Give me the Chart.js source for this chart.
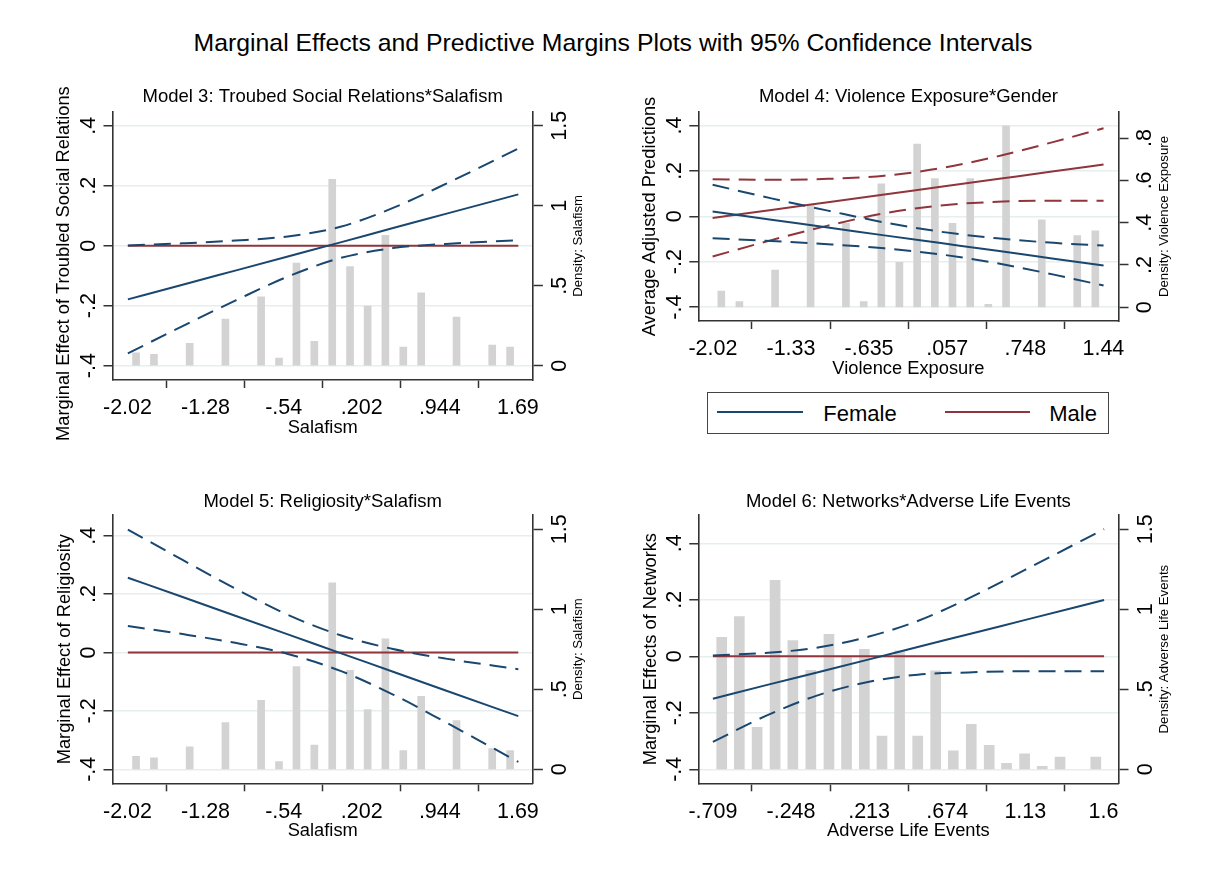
<!DOCTYPE html>
<html>
<head>
<meta charset="utf-8">
<script src="https://cdn.jsdelivr.net/npm/chart.js@4.4.1/dist/chart.umd.min.js"></script>
<style>
  html, body { margin: 0; padding: 0; background: #ffffff; }
  body { width: 1219px; height: 884px; position: relative; overflow: hidden;
         font-family: 'Liberation Sans', Arial, Helvetica, sans-serif; color: #000; }
  canvas { position: absolute; }
  #mainTitle { position: absolute; left: 0; width: 1226px; top: 28.3px; text-align: center;
               font-size: 24.8px; line-height: 30px; white-space: nowrap; }
  .lgbox { position: absolute; box-sizing: border-box; border: 1.3px solid #444; }
  .lgline { position: absolute; height: 2px; }
  .lgtext { position: absolute; font-size: 22px; line-height: 22px; white-space: nowrap; }
</style>
</head>
<body>
<div id="mainTitle">Marginal Effects and Predictive Margins Plots with 95% Confidence Intervals</div>
<canvas id="c1" width="610" height="360" style="left:0px;top:80px"></canvas>
<canvas id="c2" width="609" height="301" style="left:610px;top:80px"></canvas>
<canvas id="c3" width="610" height="364" style="left:0px;top:480px"></canvas>
<canvas id="c4" width="609" height="364" style="left:610px;top:480px"></canvas>
<div id="legendHost"></div>
<script>
// ---------------- DATA ----------------
// Tick values / labels
const leftTickVals = [-0.4, -0.2, 0, 0.2, 0.4];
const leftTickLabels = ['-.4', '-.2', '0', '.2', '.4'];
const densityTickVals = [0, 0.5, 1, 1.5];
const densityTickLabels = ['0', '.5', '1', '1.5'];
const violenceDensityTickVals = [0, 0.2, 0.4, 0.6, 0.8];
const violenceDensityTickLabels = ['0', '.2', '.4', '.6', '.8'];
const salafismTickVals = [-2.0235, -1.2816, -0.5397, 0.2022, 0.9441, 1.686];
const salafismTickLabels = ['-2.02', '-1.28', '-.54', '.202', '.944', '1.69'];
const violenceTickVals = [-2.0175, -1.3265, -0.6355, 0.0565, 0.7475, 1.4385];
const violenceTickLabels = ['-2.02', '-1.33', '-.635', '.057', '.748', '1.44'];
const adverseTickVals = [-0.709, -0.248, 0.213, 0.674, 1.135, 1.596];
const adverseTickLabels = ['-.709', '-.248', '.213', '.674', '1.13', '1.6'];

// Model 3: Troubled social relations * Salafism
const p1X      = [-2.02, -1.5, -1.0, -0.5, 0, 0.5, 1.0, 1.69];
const p1Effect = [-0.179, -0.130, -0.083, -0.036, 0.011, 0.059, 0.106, 0.171];
const p1Upper  = [0.001, 0.008, 0.017, 0.031, 0.063, 0.126, 0.206, 0.324];
const p1Lower  = [-0.359, -0.268, -0.183, -0.103, -0.041, -0.008, 0.006, 0.018];

// Salafism histogram (density)
const salafismBinX = [-1.942, -1.772, -1.433, -1.093, -0.754, -0.584, -0.418, -0.248, -0.078,
                      0.091, 0.258, 0.427, 0.597, 0.767, 1.103, 1.442, 1.612];
const salafismDensity = [0.081, 0.071, 0.14, 0.292, 0.431, 0.048, 0.642, 0.152, 1.165,
                         0.619, 0.373, 0.815, 0.117, 0.456, 0.304, 0.129, 0.117];

// Model 4: Violence exposure * Gender
const p2X         = [-2.02, -1.5, -1.0, -0.5, 0, 0.5, 1.0, 1.44];
const femaleEst   = [0.021, -0.015, -0.049, -0.084, -0.118, -0.152, -0.187, -0.217];
const femaleUpper = [0.139, 0.079, 0.025, -0.027, -0.068, -0.097, -0.117, -0.129];
const femaleLower = [-0.097, -0.109, -0.123, -0.141, -0.168, -0.207, -0.257, -0.305];
const maleEst     = [-0.007, 0.028, 0.062, 0.096, 0.130, 0.164, 0.198, 0.228];
const maleUpper   = [0.163, 0.161, 0.165, 0.179, 0.212, 0.264, 0.328, 0.388];
const maleLower   = [-0.177, -0.105, -0.041, 0.013, 0.048, 0.064, 0.069, 0.068];
const genderLabels = ['Female', 'Male'];

// Violence exposure histogram (density)
const violenceBinX = [-1.943, -1.783, -1.467, -1.153, -0.840, -0.683, -0.527, -0.367, -0.210,
                      -0.053, 0.103, 0.260, 0.420, 0.577, 0.893, 1.207, 1.367];
const violenceDensity = [0.077, 0.027, 0.176, 0.483, 0.397, 0.027, 0.584, 0.213, 0.772,
                         0.609, 0.397, 0.609, 0.014, 0.858, 0.413, 0.339, 0.362];

// Model 5: Religiosity * Salafism
const p3X      = [-2.02, -1.5, -1.0, -0.5, 0, 0.5, 1.0, 1.69];
const p3Effect = [0.256, 0.190, 0.126, 0.062, -0.002, -0.066, -0.130, -0.218];
const p3Upper  = [0.421, 0.317, 0.219, 0.129, 0.059, 0.012, -0.021, -0.057];
const p3Lower  = [0.091, 0.063, 0.033, -0.005, -0.063, -0.144, -0.239, -0.375];

// Model 6: Networks * Adverse life events
const p4X      = [-0.709, -0.4, -0.1, 0.213, 0.5, 0.8, 1.13, 1.6];
const p4Effect = [-0.150, -0.103, -0.058, -0.011, 0.033, 0.078, 0.128, 0.199];
const p4Upper  = [0.003, 0.012, 0.030, 0.070, 0.125, 0.205, 0.305, 0.450];
const p4Lower  = [-0.303, -0.212, -0.140, -0.090, -0.065, -0.057, -0.053, -0.053];

// Adverse life events histogram (density)
const adverseBinX = [-0.657, -0.553, -0.448, -0.342, -0.237, -0.131, -0.024, 0.080, 0.185, 0.289,
                     0.393, 0.500, 0.606, 0.710, 0.816, 0.922, 1.024, 1.131, 1.235, 1.340, 1.551];
const adverseDensity = [0.825, 0.954, 0.262, 1.181, 0.804, 0.619, 0.844, 0.70, 0.75, 0.208,
                        0.74, 0.208, 0.616, 0.116, 0.281, 0.150, 0.037, 0.096, 0.019, 0.077, 0.077];

// ---------------- STYLE ----------------
const FONT = "'Liberation Sans', Arial, Helvetica, sans-serif";
const NAVY = '#1a476f', MAROON = '#90353b', BARC = '#d3d3d3', GRID = '#e6eef0', AXIS = '#333333', TXT = '#000000';
const DASH = [17, 9];
Chart.defaults.font.family = FONT;

function pts(xs, ys) { return xs.map((x, i) => ({ x: x, y: ys[i] })); }
function lineDS(label, xs, ys, color, dashed, order) {
  return { type: 'line', label: label, data: pts(xs, ys), borderColor: color, backgroundColor: color,
           borderWidth: 2, borderDash: dashed ? DASH : [], pointRadius: 0, fill: false,
           cubicInterpolationMode: 'monotone', order: order, xAxisID: 'x', yAxisID: 'y' };
}
function zeroDS(xs) {
  return lineDS('zero', [xs[0], xs[xs.length - 1]], [0, 0], MAROON, false, 5);
}
function barDS(label, xs, ys, w) {
  return { type: 'bar', label: label, data: pts(xs, ys), backgroundColor: BARC, borderWidth: 0,
           barThickness: w, order: 10, xAxisID: 'x', yAxisID: 'y2' };
}

const rightTitlePlugin = {
  id: 'rightTitle',
  afterDraw(chart, args, opts) {
    const s = chart.scales.y2, c = chart.ctx;
    c.save();
    c.fillStyle = TXT; c.font = '13.2px ' + FONT; c.textAlign = 'center'; c.textBaseline = 'middle';
    c.translate(s.left + opts.offset, (s.top + s.bottom) / 2);
    c.rotate(-Math.PI / 2);
    c.fillText(opts.text, 0, 0);
    c.restore();
  }
};

function makePanel(id, p) {
  return new Chart(document.getElementById(id), {
    type: 'line',
    data: { datasets: p.datasets },
    options: {
      responsive: false, animation: false, events: [],
      layout: { padding: 0 },
      plugins: {
        legend: { display: false }, tooltip: { enabled: false },
        title: { display: true, text: p.title, color: TXT, fullSize: false,
                 font: { family: FONT, size: 18.5, weight: 'normal' },
                 padding: { top: p.titlePadTop, bottom: p.titlePadBottom } },
        rightTitle: { text: p.rightTitle, offset: 45.8 }
      },
      scales: {
        x: {
          type: 'linear', position: 'bottom', min: p.xMin, max: p.xMax, offset: false, bounds: 'data',
          afterBuildTicks: s => { s.ticks = p.xTickVals.map(v => ({ value: v })); },
          afterFit: s => { s.height = p.xHeight; },
          ticks: { callback: (v, i) => p.xTickLabels[i], autoSkip: false, minRotation: 0, maxRotation: 0,
                   padding: 7.4, color: TXT, font: { family: FONT, size: 21.5 } },
          grid: { display: true, drawOnChartArea: false, drawTicks: true, tickLength: 8, tickColor: AXIS, tickWidth: 1.5 },
          border: { display: true, color: AXIS, width: 1.6 },
          title: { display: true, text: p.xTitle, color: TXT, font: { family: FONT, size: 18.3 },
                   padding: { top: 0, bottom: p.xTitlePadBottom } }
        },
        y: {
          type: 'linear', position: 'left', min: p.yMin, max: p.yMax, bounds: 'data',
          afterBuildTicks: s => { s.ticks = leftTickVals.map(v => ({ value: v })); },
          afterFit: s => { s.width = p.yWidth; },
          ticks: { callback: (v, i) => leftTickLabels[i], autoSkip: false, minRotation: 90, maxRotation: 90,
                   crossAlign: 'center', padding: 1.8, color: TXT, font: { family: FONT, size: 21.5 } },
          grid: { display: true, drawOnChartArea: true, color: GRID, lineWidth: 1.5, drawTicks: true,
                  tickLength: 9, tickColor: AXIS, tickWidth: 1.5 },
          border: { display: true, color: AXIS, width: 1.6 },
          title: { display: true, text: p.yTitle, color: TXT, font: { family: FONT, size: 18.3 },
                   padding: { top: p.yTitlePadTop, bottom: 0 } }
        },
        y2: {
          type: 'linear', position: 'right', min: p.y2Min, max: p.y2Max, bounds: 'data',
          afterBuildTicks: s => { s.ticks = p.y2TickVals.map(v => ({ value: v })); },
          afterFit: s => { s.width = p.y2Width; },
          ticks: { callback: (v, i) => p.y2TickLabels[i], autoSkip: false, minRotation: 90, maxRotation: 90,
                   crossAlign: 'center', padding: p.y2Pad, color: TXT, font: { family: FONT, size: 21.5 } },
          grid: { display: true, drawOnChartArea: false, drawTicks: true, tickLength: 10, tickColor: AXIS, tickWidth: 1.5 },
          border: { display: true, color: AXIS, width: 1.6 }
        }
      }
    },
    plugins: [rightTitlePlugin]
  });
}

// Panel 1
makePanel('c1', {
  title: 'Model 3: Troubed Social Relations*Salafism', titlePadTop: 5.6, titlePadBottom: 3.9,
  xTitle: 'Salafism', xTickVals: salafismTickVals, xTickLabels: salafismTickLabels,
  xMin: -2.166, xMax: 1.8285, xHeight: 60, xTitlePadBottom: 1.3,
  yTitle: 'Marginal Effect of Troubled Social Relations' + '\u00a0'.repeat(7),
  yMin: -0.4477, yMax: 0.4467, yWidth: 112.5, yTitlePadTop: 53,
  rightTitle: 'Density: Salafism', y2TickVals: densityTickVals, y2TickLabels: densityTickLabels,
  y2Min: -0.0894, y2Max: 1.5875, y2Width: 77.1, y2Pad: 2.6,
  datasets: [
    barDS('Density', salafismBinX, salafismDensity, 7),
    zeroDS(p1X),
    lineDS('Upper 95% CI', p1X, p1Upper, NAVY, true, 1),
    lineDS('Lower 95% CI', p1X, p1Lower, NAVY, true, 1),
    lineDS('Marginal effect', p1X, p1Effect, NAVY, false, 0)
  ]
});

// Panel 2
makePanel('c2', {
  title: 'Model 4: Violence Exposure*Gender', titlePadTop: 5.6, titlePadBottom: 4.2,
  xTitle: 'Violence Exposure', xTickVals: violenceTickVals, xTickLabels: violenceTickLabels,
  xMin: -2.1467, xMax: 1.5721, xHeight: 60, xTitlePadBottom: 1.3,
  yTitle: 'Average Adjusted Predictions',
  yMin: -0.4612, yMax: 0.4595, yWidth: 88.3, yTitlePadTop: 29,
  rightTitle: 'Density: Violence Exposure', y2TickVals: violenceDensityTickVals, y2TickLabels: violenceDensityTickLabels,
  y2Min: -0.0648, y2Max: 0.9234, y2Width: 100.5, y2Pad: 7.5,
  datasets: [
    barDS('Density', violenceBinX, violenceDensity, 7),
    lineDS('Male upper', p2X, maleUpper, MAROON, true, 3),
    lineDS('Male lower', p2X, maleLower, MAROON, true, 3),
    lineDS(genderLabels[1], p2X, maleEst, MAROON, false, 2),
    lineDS('Female upper', p2X, femaleUpper, NAVY, true, 1),
    lineDS('Female lower', p2X, femaleLower, NAVY, true, 1),
    lineDS(genderLabels[0], p2X, femaleEst, NAVY, false, 0)
  ]
});

// Panel 3
makePanel('c3', {
  title: 'Model 5: Religiosity*Salafism', titlePadTop: 10.6, titlePadBottom: 2.2,
  xTitle: 'Salafism', xTickVals: salafismTickVals, xTickLabels: salafismTickLabels,
  xMin: -2.166, xMax: 1.8285, xHeight: 60.7, xTitlePadBottom: 2.0,
  yTitle: 'Marginal Effect of Religiosity',
  yMin: -0.448, yMax: 0.4709, yWidth: 112.5, yTitlePadTop: 53.5,
  rightTitle: 'Density: Salafism', y2TickVals: densityTickVals, y2TickLabels: densityTickLabels,
  y2Min: -0.0875, y2Max: 1.589, y2Width: 77.1, y2Pad: 2.6,
  datasets: [
    barDS('Density', salafismBinX, salafismDensity, 7),
    zeroDS(p3X),
    lineDS('Upper 95% CI', p3X, p3Upper, NAVY, true, 1),
    lineDS('Lower 95% CI', p3X, p3Lower, NAVY, true, 1),
    lineDS('Marginal effect', p3X, p3Effect, NAVY, false, 0)
  ]
});

// Panel 4
makePanel('c4', {
  title: 'Model 6: Networks*Adverse Life Events', titlePadTop: 10.6, titlePadBottom: 2.2,
  xTitle: 'Adverse Life Events', xTickVals: adverseTickVals, xTickLabels: adverseTickLabels,
  xMin: -0.7952, xMax: 1.6851, xHeight: 60.7, xTitlePadBottom: 2.0,
  yTitle: 'Marginal Effects of Networks',
  yMin: -0.4496, yMax: 0.5002, yWidth: 88.3, yTitlePadTop: 30,
  rightTitle: 'Density: Adverse Life Events', y2TickVals: densityTickVals, y2TickLabels: densityTickLabels,
  y2Min: -0.0875, y2Max: 1.589, y2Width: 100.5, y2Pad: 2.6,
  datasets: [
    barDS('Density', adverseBinX, adverseDensity, 10),
    zeroDS(p4X),
    lineDS('Upper 95% CI', p4X, p4Upper, NAVY, true, 1),
    lineDS('Lower 95% CI', p4X, p4Lower, NAVY, true, 1),
    lineDS('Marginal effect', p4X, p4Effect, NAVY, false, 0)
  ]
});

// Legend for panel 2 (Female / Male)
(function () {
  const host = document.getElementById('legendHost');
  const box = document.createElement('div');
  box.className = 'lgbox';
  Object.assign(box.style, { left: '707px', top: '392px', width: '402px', height: '41.5px' });
  host.appendChild(box);
  const items = [
    { label: genderLabels[0], color: NAVY, lineLeft: 717.3, lineW: 86, textLeft: 823.3 },
    { label: genderLabels[1], color: MAROON, lineLeft: 945, lineW: 85, textLeft: 1049.3 }
  ];
  items.forEach(it => {
    const ln = document.createElement('div');
    ln.className = 'lgline';
    Object.assign(ln.style, { left: it.lineLeft + 'px', top: '411.3px', width: it.lineW + 'px', background: it.color });
    host.appendChild(ln);
    const tx = document.createElement('div');
    tx.className = 'lgtext';
    tx.textContent = it.label;
    Object.assign(tx.style, { left: it.textLeft + 'px', top: '402.6px' });
    host.appendChild(tx);
  });
})();
</script>
</body>
</html>
